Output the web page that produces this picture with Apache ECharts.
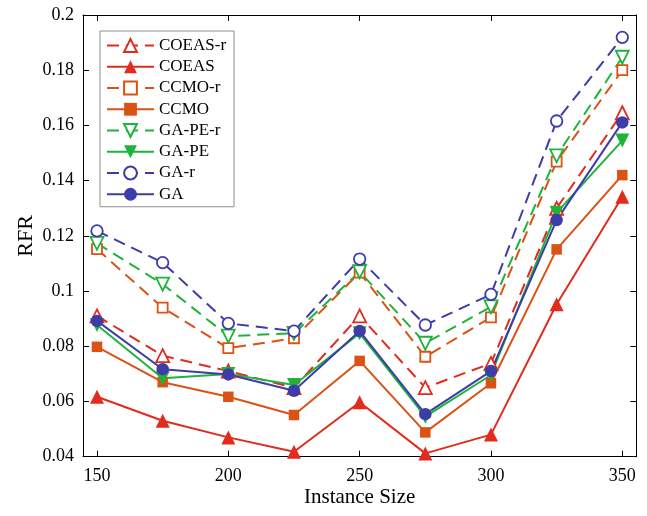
<!DOCTYPE html>
<html>
<head>
<meta charset="utf-8">
<title>RFR vs Instance Size</title>
<script src="https://cdn.jsdelivr.net/npm/echarts@6/dist/echarts.min.js"></script>
<style>
  html, body { margin: 0; padding: 0; background: #ffffff; }
  #chart { width: 647px; height: 516px; }
</style>
</head>
<body>
<div id="chart"></div>
<script>
// Instance sizes (x values) and tick labels
const instanceSizes = [150, 175, 200, 225, 250, 275, 300, 325, 350];
const xTicks = [150, 200, 250, 300, 350];

// RFR for each algorithm
const coeasR  = [0.091, 0.0766, 0.071, 0.065, 0.091, 0.065, 0.0738, 0.130, 0.1646];
const coeas   = [0.0617, 0.053, 0.047, 0.0418, 0.0597, 0.0412, 0.048, 0.0952, 0.1342];
const ccmoR   = [0.1152, 0.094, 0.0793, 0.0829, 0.1067, 0.0762, 0.0905, 0.1469, 0.180];
const ccmo    = [0.0798, 0.067, 0.0617, 0.0551, 0.0747, 0.0488, 0.0666, 0.1151, 0.142];
const gapeR   = [0.1173, 0.1025, 0.0837, 0.0847, 0.107, 0.0811, 0.0943, 0.149, 0.1847];
const gape    = [0.0877, 0.0684, 0.070, 0.066, 0.0847, 0.0545, 0.0696, 0.1284, 0.1545];
const gaR     = [0.1218, 0.1103, 0.0883, 0.0855, 0.1116, 0.0877, 0.0988, 0.1616, 0.1919];
const ga      = [0.0892, 0.0717, 0.0698, 0.0639, 0.0855, 0.0554, 0.071, 0.1257, 0.1611];

const RED = '#e22b1d', ORANGE = '#db5215', GREEN = '#1fb33b', BLUE = '#3d3da8';
const FONT = 'Liberation Serif';

function pairs(values) {
  return instanceSizes.map((x, i) => [x, values[i]]);
}

function makeSeries(name, values, color, symbol, size, hollow, dashed, rotate) {
  return {
    name: name,
    type: 'line',
    data: pairs(values),
    symbol: symbol,
    symbolSize: size,
    symbolRotate: rotate || 0,
    showSymbol: true,
    lineStyle: { color: color, width: 2, type: dashed ? [12, 7] : 'solid' },
    itemStyle: hollow
      ? { color: '#ffffff', borderColor: color, borderWidth: 1.8 }
      : { color: color, borderColor: color, borderWidth: 0 },
    emphasis: { disabled: true },
    xAxisIndex: 0,
    yAxisIndex: 0
  };
}

const series = [
  makeSeries('COEAS-r', coeasR, RED, 'triangle', 13, true, true),
  makeSeries('COEAS', coeas, RED, 'triangle', 14, false, false),
  makeSeries('CCMO-r', ccmoR, ORANGE, 'rect', 10, true, true),
  makeSeries('CCMO', ccmo, ORANGE, 'rect', 10.5, false, false),
  makeSeries('GA-PE-r', gapeR, GREEN, 'triangle', 13, true, true, 180),
  makeSeries('GA-PE', gape, GREEN, 'triangle', 14, false, false, 180),
  makeSeries('GA-r', gaR, BLUE, 'circle', 11.5, true, true),
  makeSeries('GA', ga, BLUE, 'circle', 12.5, false, false)
];

const X_MIN = 144.67, X_MAX = 355.33;
const axisLineStyle = { lineStyle: { color: '#000000', width: 1 } };

const chart = echarts.init(document.getElementById('chart'), null, { renderer: 'canvas' });
chart.setOption({
  animation: false,
  backgroundColor: '#ffffff',
  textStyle: { fontFamily: FONT, color: '#000000' },
  grid: {
    left: 83, right: 10.7, top: 15, bottom: 59.3,
    containLabel: false,
    outerBoundsMode: 'none'
  },
  legend: {
    orient: 'vertical',
    left: 100,
    top: 31,
    padding: [6, 8, 4, 6],
    itemWidth: 47,
    itemHeight: 16,
    itemGap: 4.25,
    backgroundColor: '#ffffff',
    borderColor: '#8f8f8f',
    borderWidth: 1,
    textStyle: { fontFamily: FONT, fontSize: 17, color: '#000000' },
    data: series.map(s => s.name)
  },
  xAxis: [
    {
      type: 'value',
      min: X_MIN,
      max: X_MAX,
      name: 'Instance Size',
      nameLocation: 'middle',
      nameGap: 30,
      nameMoveOverlap: false,
      nameTextStyle: { fontFamily: FONT, fontSize: 21, color: '#000000' },
      axisLine: axisLineStyle,
      axisTick: { inside: true, length: 6, customValues: xTicks, lineStyle: { color: '#000000' } },
      axisLabel: { customValues: xTicks, margin: 11, fontFamily: FONT, fontSize: 18, color: '#000000' },
      splitLine: { show: false }
    },
    {
      type: 'value',
      position: 'top',
      min: X_MIN,
      max: X_MAX,
      axisLine: axisLineStyle,
      axisTick: { inside: true, length: 6, customValues: xTicks, lineStyle: { color: '#000000' } },
      axisLabel: { show: false },
      splitLine: { show: false }
    }
  ],
  yAxis: [
    {
      type: 'value',
      min: 0.04,
      max: 0.2,
      interval: 0.02,
      name: 'RFR',
      nameLocation: 'middle',
      nameGap: 46,
      nameMoveOverlap: false,
      nameTextStyle: { fontFamily: FONT, fontSize: 22, color: '#000000' },
      axisLine: { show: true, lineStyle: { color: '#000000', width: 1 } },
      axisTick: { show: true, inside: true, length: 6, lineStyle: { color: '#000000' } },
      axisLabel: {
        margin: 9, fontFamily: FONT, fontSize: 18, color: '#000000',
        formatter: v => String(+v.toFixed(2))
      },
      splitLine: { show: false }
    },
    {
      type: 'value',
      position: 'right',
      min: 0.04,
      max: 0.2,
      interval: 0.02,
      axisLine: { show: true, lineStyle: { color: '#000000', width: 1 } },
      axisTick: { show: true, inside: true, length: 6, lineStyle: { color: '#000000' } },
      axisLabel: { show: false },
      splitLine: { show: false }
    }
  ],
  series: series
});
</script>
</body>
</html>
